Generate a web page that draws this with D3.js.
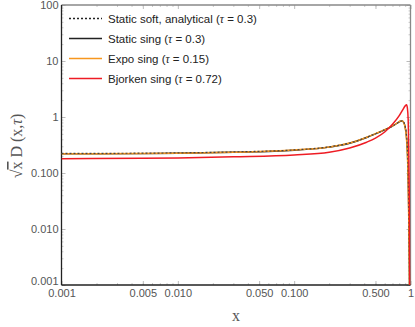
<!DOCTYPE html>
<html>
<head>
<meta charset="utf-8">
<script src="https://cdn.jsdelivr.net/npm/d3@7"></script>
<style>
  body { margin: 0; background: #fff; }
  svg text { font-family: "Liberation Sans", Arial, sans-serif; }
</style>
</head>
<body>
<div id="chart"></div>
<script>
// data
let xTicks = [0.001, 0.005, 0.01, 0.05, 0.1, 0.5, 1];
let xTickLabels = ['0.001', '0.005', '0.010', '0.050', '0.100', '0.500', '1'];
let yTicks = [0.001, 0.01, 0.1, 1, 10, 100];
let yTickLabels = ['0.001', '0.010', '0.100', '1', '10', '100'];

let xStatic = [0.001, 0.005, 0.01, 0.03, 0.1, 0.2, 0.3, 0.42, 0.5, 0.6, 0.7, 0.78, 0.82, 0.85, 0.88, 0.9, 0.92, 0.94, 0.955, 0.965, 0.975, 0.982];
let staticSing = [0.220, 0.222, 0.225, 0.234, 0.255, 0.29, 0.34, 0.43, 0.50, 0.59, 0.69, 0.79, 0.84, 0.85, 0.78, 0.66, 0.48, 0.24, 0.08, 0.02, 0.004, 0.0006];
let staticSoft = [0.224, 0.226, 0.229, 0.238, 0.258, 0.293, 0.343, 0.433, 0.503, 0.593, 0.69, 0.79, 0.84, 0.85, 0.79, 0.68, 0.52, 0.29, 0.11, 0.03, 0.006, 0.0006];
let expoSing = [0.221, 0.223, 0.226, 0.235, 0.257, 0.292, 0.342, 0.435, 0.505, 0.595, 0.695, 0.795, 0.845, 0.85, 0.77, 0.64, 0.46, 0.22, 0.07, 0.017, 0.003, 0.0005];

let xBjorken = [0.001, 0.005, 0.01, 0.03, 0.1, 0.2, 0.3, 0.42, 0.5, 0.6, 0.7, 0.8, 0.86, 0.9, 0.925, 0.94, 0.955, 0.965, 0.975, 0.982, 0.988];
let bjorkenSing = [0.180, 0.183, 0.186, 0.195, 0.21, 0.235, 0.28, 0.355, 0.42, 0.54, 0.74, 1.06, 1.36, 1.58, 1.65, 1.45, 0.9, 0.3, 0.05, 0.008, 0.0006];

let legendNames = ['Static soft, analytical', 'Static sing', 'Expo sing', 'Bjorken sing'];
let legendTaus = ['0.3', '0.3', '0.15', '0.72'];

let width = 415;
let height = 327;
let mLeft = 61.5, mRight = 410.5, mTop = 5, mBottom = 285;

let x = d3.scaleLog().domain([0.001, 1]).range([mLeft, mRight]);
let y = d3.scaleLog().domain([0.001, 100]).range([mBottom, mTop]);

let svg = d3.select('#chart').append('svg')
    .attr('width', width)
    .attr('height', height);

svg.append('defs').append('clipPath').attr('id', 'clip')
    .append('rect')
    .attr('x', mLeft).attr('y', mTop)
    .attr('width', mRight - mLeft).attr('height', mBottom - mTop);

function minors(lo, hi) {
    let out = [];
    for (let e = lo; e < hi; e++) {
        for (let m = 2; m <= 9; m++) out.push(m * Math.pow(10, e));
    }
    return out;
}
let xMinor = minors(-3, 0);
let yMinor = minors(-3, 2);

// frame: gray top / right, dark left / bottom
function styleAxis(g, col) {
    g.select('.domain').remove();
    g.selectAll('line').attr('stroke', col);
    g.selectAll('text').attr('fill', '#555').attr('font-size', 11);
}

svg.append('g').attr('transform', `translate(0,${mTop})`)
    .call(d3.axisTop(x).tickValues(xTicks).tickSizeInner(-4).tickSizeOuter(0).tickFormat(''))
    .call(g => styleAxis(g, '#bbb'));
svg.append('g').attr('transform', `translate(0,${mTop})`)
    .call(d3.axisTop(x).tickValues(xMinor).tickSizeInner(-2).tickSizeOuter(0).tickFormat(''))
    .call(g => styleAxis(g, '#ccc'));
svg.append('g').attr('transform', `translate(${mRight},0)`)
    .call(d3.axisRight(y).tickValues(yTicks).tickSizeInner(-4).tickSizeOuter(0).tickFormat(''))
    .call(g => styleAxis(g, '#bbb'));
svg.append('g').attr('transform', `translate(${mRight},0)`)
    .call(d3.axisRight(y).tickValues(yMinor).tickSizeInner(-2).tickSizeOuter(0).tickFormat(''))
    .call(g => styleAxis(g, '#ccc'));

svg.append('g').attr('transform', `translate(0,${mBottom})`)
    .call(d3.axisBottom(x).tickValues(xMinor).tickSizeInner(-2).tickSizeOuter(0).tickFormat(''))
    .call(g => styleAxis(g, '#ccc'));
svg.append('g').attr('transform', `translate(0,${mBottom})`)
    .call(d3.axisBottom(x).tickValues(xTicks).tickSizeInner(-4).tickSizeOuter(0).tickPadding(4)
        .tickFormat((d, i) => xTickLabels[i]))
    .call(g => styleAxis(g, '#bbb'));

svg.append('g').attr('transform', `translate(${mLeft},0)`)
    .call(d3.axisLeft(y).tickValues(yMinor).tickSizeInner(-2).tickSizeOuter(0).tickFormat(''))
    .call(g => styleAxis(g, '#ccc'));
svg.append('g').attr('transform', `translate(${mLeft},0)`)
    .call(d3.axisLeft(y).tickValues(yTicks).tickSizeInner(-4).tickSizeOuter(0).tickPadding(3)
        .tickFormat((d, i) => yTickLabels[i]))
    .call(g => styleAxis(g, '#bbb'))
    // lift the lowest label so it just touches the x label below it
    .call(g => g.selectAll('.tick text').filter(d => d === 0.001).attr('dy', '-0.05em'));

svg.append('line').attr('x1', mLeft).attr('x2', mRight).attr('y1', mTop).attr('y2', mTop)
    .attr('stroke', '#888').attr('stroke-width', 1.3);
svg.append('line').attr('x1', mRight).attr('x2', mRight).attr('y1', mTop).attr('y2', mBottom)
    .attr('stroke', '#888').attr('stroke-width', 1.3);
svg.append('line').attr('x1', mLeft).attr('x2', mRight).attr('y1', mBottom).attr('y2', mBottom)
    .attr('stroke', '#222').attr('stroke-width', 1.3);
svg.append('line').attr('x1', mLeft).attr('x2', mLeft).attr('y1', mTop).attr('y2', mBottom)
    .attr('stroke', '#222').attr('stroke-width', 1.3);

// curves
let plot = svg.append('g').attr('clip-path', 'url(#clip)');
let line = d3.line()
    .x(d => x(d[0]))
    .y(d => y(Math.max(d[1], 1e-5)))
    .curve(d3.curveMonotoneX);

let series = [
    { xs: xStatic, ys: staticSing, color: '#222', dash: null, w: 1.4 },
    { xs: xStatic, ys: expoSing, color: '#f7961e', dash: null, w: 1.5 },
    { xs: xStatic, ys: staticSoft, color: '#444', dash: '2,2', w: 1.2 },
    { xs: xBjorken, ys: bjorkenSing, color: '#ee1c24', dash: null, w: 1.5 }
];
series.forEach(s => {
    plot.append('path')
        .datum(s.xs.map((v, i) => [v, s.ys[i]]))
        .attr('fill', 'none')
        .attr('stroke', s.color)
        .attr('stroke-width', s.w)
        .attr('stroke-dasharray', s.dash)
        .attr('d', line);
});

// legend
let legendStyles = [
    { color: '#222', dash: '2,2' },
    { color: '#222', dash: null },
    { color: '#f7961e', dash: null },
    { color: '#ee1c24', dash: null }
];
let legend = svg.append('g');
legendNames.forEach((name, i) => {
    let ly = 18.5 + i * 20;
    legend.append('line')
        .attr('x1', 69).attr('x2', 102).attr('y1', ly).attr('y2', ly)
        .attr('stroke', legendStyles[i].color)
        .attr('stroke-width', 1.4)
        .attr('stroke-dasharray', legendStyles[i].dash);
    let t = legend.append('text')
        .attr('x', 108).attr('y', ly + 4)
        .attr('font-size', 11.5).attr('fill', '#222');
    t.append('tspan').text(name + ' (');
    t.append('tspan').attr('font-style', 'italic').attr('font-family', '"Liberation Serif", serif').text('τ');
    t.append('tspan').text(' = ' + legendTaus[i] + ')');
});

// axis titles
svg.append('text')
    .attr('x', 236).attr('y', 321)
    .attr('text-anchor', 'middle')
    .attr('font-size', 16).attr('fill', '#555')
    .style('font-family', '"Liberation Serif", "DejaVu Serif", serif')
    .text('x');

let yt = svg.append('text')
    .attr('transform', 'translate(22,146) rotate(-90)')
    .attr('text-anchor', 'middle')
    .attr('font-size', 16).attr('fill', '#555')
    .style('font-family', '"Liberation Serif", "DejaVu Serif", serif');
yt.append('tspan').text('√');
yt.append('tspan').style('text-decoration', 'overline').text('x');
yt.append('tspan').text(' D (x,');
yt.append('tspan').attr('font-style', 'italic').text('τ');
yt.append('tspan').text(')');
</script>
</body>
</html>
